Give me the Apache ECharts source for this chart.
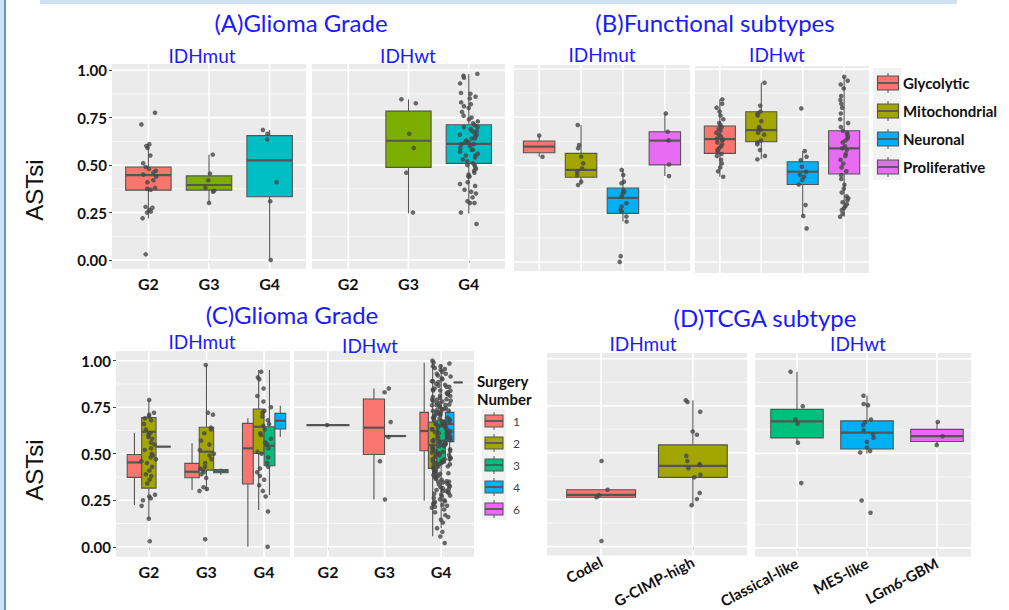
<!DOCTYPE html>
<html><head><meta charset="utf-8">
<script src="https://cdn.jsdelivr.net/npm/echarts@6/dist/echarts.min.js"></script>
<style>html,body{margin:0;padding:0;background:#fff}#c{width:1009px;height:610px}</style>
</head><body><div id="c"></div>
<script>
// ================= DATA =================
const gradeCats = ['G2', 'G3', 'G4'];
const funcCats = ['Glycolytic', 'Mitochondrial', 'Neuronal', 'Proliferative'];
const surgeryCats = ['1', '2', '3', '4', '6'];
const tcgaMutCats = ['Codel', 'G-CIMP-high'];
const tcgaWtCats = ['Classical-like', 'MES-like', 'LGm6-GBM'];
const facetNames = ['IDHmut', 'IDHwt'];
const panelTitles = ['(A)Glioma Grade', '(B)Functional subtypes', '(C)Glioma Grade', '(D)TCGA subtype'];
const yTitle = 'ASTsi';
const legendCTitle = ['Surgery', 'Number'];
const yTicks = [0, 0.25, 0.5, 0.75, 1];
const yTickLabels = ['0.00', '0.25', '0.50', '0.75', '1.00'];
const yMinorTicks = [0.125, 0.375, 0.625, 0.875];

// box statistics: [category, lower whisker, Q1, median, Q3, upper whisker]
const aMutBoxes = [
  ['G2', 0.22, 0.368, 0.447, 0.49, 0.61],
  ['G3', 0.30, 0.368, 0.395, 0.443, 0.555],
  ['G4', 0.0, 0.333, 0.525, 0.655, 0.685]
];
const aWtBoxes = [
  ['G3', 0.247, 0.488, 0.628, 0.784, 0.846],
  ['G4', 0.245, 0.509, 0.612, 0.712, 0.98]
];
const aMutG2 = [0.775,0.714,0.61,0.60,0.59,0.55,0.51,0.49,0.48,0.47,0.46,0.45,0.44,0.42,0.41,0.38,0.375,0.37,0.28,0.275,0.265,0.255,0.25,0.22,0.03];
const aMutG3 = [0.555,0.455,0.42,0.38,0.365,0.36,0.30];
const aMutG4 = [0.685,0.665,0.635,0.41,0.31,0.0];
const aWtG3 = [0.846,0.825,0.665,0.59,0.46,0.25];
const aWtG4 = [0.98,0.97,0.96,0.93,0.88,0.875,0.86,0.85,0.83,0.82,0.81,0.80,0.78,0.76,0.75,0.74,0.73,0.72,0.71,0.70,0.70,0.69,0.68,0.68,0.67,0.66,0.66,0.65,0.64,0.64,0.63,0.62,0.62,0.61,0.61,0.60,0.59,0.58,0.58,0.57,0.56,0.55,0.55,0.54,0.53,0.52,0.51,0.50,0.50,0.49,0.48,0.47,0.46,0.45,0.44,0.44,0.41,0.40,0.39,0.37,0.36,0.35,0.33,0.31,0.30,0.30,0.25,0.19];

const bMutBoxes = [
  ['Glycolytic', 0.545, 0.566, 0.598, 0.627, 0.655],
  ['Mitochondrial', 0.399, 0.439, 0.477, 0.563, 0.71],
  ['Neuronal', 0.209, 0.252, 0.332, 0.383, 0.477],
  ['Proliferative', 0.445, 0.503, 0.629, 0.675, 0.77]
];
const bWtBoxes = [
  ['Glycolytic', 0.442, 0.563, 0.637, 0.705, 0.843],
  ['Mitochondrial', 0.532, 0.623, 0.684, 0.779, 0.929],
  ['Neuronal', 0.235, 0.402, 0.468, 0.52, 0.575],
  ['Proliferative', 0.235, 0.456, 0.589, 0.68, 0.96]
];
const bMutGly = [0.655, 0.545];
const bMutMito = [0.71,0.606,0.589,0.546,0.511,0.485,0.468,0.451,0.416,0.399];
const bMutNeur = [0.477,0.451,0.416,0.408,0.373,0.364,0.356,0.339,0.304,0.287,0.269,0.261,0.235,0.209,0.03,0.0];
const bMutProl = [0.77,0.675,0.63,0.505,0.445];
const bWtGly = [0.843,0.82,0.80,0.78,0.76,0.74,0.72,0.71,0.70,0.69,0.68,0.67,0.66,0.65,0.64,0.635,0.63,0.62,0.61,0.60,0.59,0.58,0.57,0.56,0.55,0.53,0.51,0.49,0.47,0.442];
const bWtMito = [0.929,0.81,0.78,0.77,0.76,0.73,0.70,0.69,0.685,0.67,0.66,0.63,0.62,0.61,0.58,0.55,0.532];
const bWtNeur = [0.796,0.575,0.546,0.528,0.494,0.468,0.451,0.442,0.425,0.402,0.295,0.238,0.174];
const bWtProl = [0.96,0.94,0.92,0.90,0.86,0.84,0.82,0.80,0.77,0.74,0.72,0.70,0.68,0.67,0.66,0.65,0.64,0.63,0.62,0.60,0.59,0.58,0.56,0.55,0.53,0.51,0.49,0.47,0.45,0.43,0.40,0.38,0.36,0.34,0.33,0.32,0.31,0.30,0.29,0.28,0.27,0.25,0.235];

// [grade, surgery number, lower whisker, Q1, median, Q3, upper whisker]
const cMutBoxes = [
  ['G2', '1', 0.224, 0.373, 0.453, 0.496, 0.613],
  ['G2', '2', 0.152, 0.315, 0.618, 0.695, 0.789],
  ['G2', '3', 0.538, 0.538, 0.538, 0.538, 0.538],
  ['G3', '1', 0.305, 0.371, 0.403, 0.448, 0.556],
  ['G3', '2', 0.30, 0.412, 0.511, 0.642, 0.977],
  ['G3', '3', 0.385, 0.398, 0.405, 0.415, 0.42],
  ['G4', '1', 0.0, 0.337, 0.529, 0.663, 0.69],
  ['G4', '2', 0.197, 0.502, 0.645, 0.74, 0.95],
  ['G4', '3', 0.278, 0.435, 0.543, 0.645, 0.95],
  ['G4', '4', 0.59, 0.633, 0.677, 0.717, 0.758]
];
const cWtBoxes = [
  ['G2', '1', 0.654, 0.654, 0.654, 0.654, 0.654],
  ['G3', '1', 0.254, 0.496, 0.64, 0.794, 0.851],
  ['G3', '2', 0.595, 0.595, 0.595, 0.595, 0.595],
  ['G4', '1', 0.247, 0.516, 0.622, 0.722, 0.989],
  ['G4', '2', 0.057, 0.421, 0.547, 0.67, 1.0],
  ['G4', '3', 0.10, 0.45, 0.57, 0.68, 0.98],
  ['G4', '4', 0.457, 0.565, 0.66, 0.722, 0.743],
  ['G4', '6', 0.883, 0.883, 0.883, 0.883, 0.883]
];
const cMutG2 = [0.789,0.72,0.71,0.70,0.69,0.68,0.66,0.63,0.61,0.60,0.59,0.58,0.56,0.55,0.53,0.52,0.50,0.49,0.48,0.47,0.46,0.45,0.43,0.41,0.39,0.38,0.36,0.34,0.28,0.27,0.26,0.25,0.22,0.15,0.03];
const cMutG3 = [0.977,0.72,0.71,0.64,0.63,0.61,0.57,0.55,0.52,0.50,0.49,0.47,0.45,0.43,0.42,0.41,0.40,0.39,0.37,0.32,0.31,0.30,0.04];
const cMutG4 = [0.94,0.91,0.90,0.85,0.81,0.78,0.75,0.73,0.72,0.70,0.68,0.66,0.65,0.63,0.61,0.60,0.58,0.56,0.55,0.53,0.51,0.50,0.48,0.45,0.43,0.42,0.40,0.38,0.36,0.33,0.30,0.27,0.19,0.0];
const cWtG2 = [0.654];
const cWtG3 = [0.851,0.83,0.67,0.59,0.46,0.254];
const cWtG4 = [1.0,0.99,0.985,0.97,0.96,0.955,0.94,0.93,0.92,0.915,0.90,0.89,0.885,0.87,0.865,0.86,0.85,0.84,0.838,0.83,0.82,0.812,0.81,0.80,0.793,0.79,0.782,0.78,0.772,0.77,0.762,0.76,0.753,0.75,0.741,0.74,0.733,0.73,0.722,0.72,0.713,0.71,0.704,0.70,0.694,0.69,0.683,0.68,0.672,0.67,0.664,0.66,0.652,0.65,0.647,0.64,0.633,0.63,0.624,0.62,0.614,0.61,0.603,0.60,0.592,0.59,0.585,0.58,0.574,0.57,0.562,0.56,0.553,0.55,0.546,0.54,0.532,0.53,0.524,0.52,0.513,0.51,0.504,0.50,0.493,0.49,0.482,0.48,0.471,0.47,0.462,0.46,0.452,0.45,0.443,0.44,0.432,0.43,0.42,0.41,0.40,0.392,0.385,0.38,0.37,0.36,0.352,0.35,0.34,0.33,0.32,0.31,0.30,0.29,0.28,0.27,0.262,0.25,0.24,0.23,0.22,0.21,0.20,0.185,0.17,0.16,0.145,0.13,0.10,0.08,0.055,0.02,
  0.905,0.875,0.845,0.825,0.805,0.785,0.765,0.745,0.725,0.715,0.695,0.675,0.655,0.635,0.615,0.605,0.595,0.575,0.565,0.555,0.535,0.515,0.505,0.495,0.475,0.455,0.445,0.425,0.415,0.405,0.395,0.375,0.365,0.345,0.335,0.325,0.315,0.305,0.295,0.285,0.275,0.255,0.245,0.235,0.225,0.215,0.93,0.95,0.97,0.89,0.86,0.84,0.82,0.79,0.76,0.73,0.69,0.66,0.62,0.58,0.54,0.47,0.44,0.39,0.35,0.30];

const dMutBoxes = [
  ['Codel', 0.263, 0.263, 0.276, 0.303, 0.303],
  ['G-CIMP-high', 0.221, 0.369, 0.43, 0.542, 0.779]
];
const dWtBoxes = [
  ['Classical-like', 0.556, 0.582, 0.669, 0.733, 0.932],
  ['MES-like', 0.50, 0.523, 0.61, 0.672, 0.805],
  ['LGm6-GBM', 0.544, 0.563, 0.591, 0.627, 0.666]
];
const dMutCodel = [0.456, 0.303, 0.274, 0.263, 0.03];
const dMutGcimp = [0.779,0.77,0.718,0.613,0.596,0.483,0.456,0.439,0.435,0.418,0.383,0.369,0.286,0.253,0.221];
const dWtClass = [0.932,0.749,0.679,0.657,0.556,0.343];
const dWtMes = [0.805,0.761,0.755,0.679,0.665,0.65,0.622,0.60,0.582,0.56,0.531,0.512,0.505,0.251,0.186];
const dWtLgm = [0.666,0.591,0.544];

// ================= STYLE =================
const gradeColors = ['#F8766D', '#7CAE00', '#00BFC4'];
const funcColors = ['#F8766D', '#A3A500', '#00B0F6', '#E76BF3'];
const surgeryColors = ['#F8766D', '#A3A500', '#00BF7D', '#00B0F6', '#E76BF3'];
const tcgaMutColors = ['#F8766D', '#A3A500'];
const tcgaWtColors = ['#00BF7D', '#00B0F6', '#E76BF3'];
const BLUE = '#1a1aff';
const LINE = '#555555';
const PANEL = '#EBEBEB';

const option = { animation: false, backgroundColor: '#ffffff', grid: [], xAxis: [], yAxis: [], series: [], graphic: [] };

// deterministic horizontal jitter (presentation only)
function jitter(i, w, seed) { const s = Math.sin((i + 1) * 12.9898 + seed * 78.233) * 43758.5453; return ((s - Math.floor(s)) - 0.5) * 2 * w; }

function addFacet(cfg) {
  const gi = option.grid.length;
  const catPos = cfg.cats.map((c, k) => k + 1);
  option.grid.push({ left: cfg.rect[0], top: cfg.rect[1], width: cfg.rect[2], height: cfg.rect[3],
    show: true, backgroundColor: PANEL, borderWidth: 0 });
  option.xAxis.push({ gridIndex: gi, type: 'value', min: cfg.xr[0], max: cfg.xr[1],
    axisLine: { show: false }, splitLine: { show: false },
    axisTick: { show: cfg.showX, customValues: catPos, length: 3, lineStyle: { color: '#444' } },
    axisLabel: { show: cfg.showX, customValues: catPos, rotate: cfg.rotate || 0, margin: cfg.rotate ? 5 : 6,
      formatter: v => cfg.cats[Math.round(v) - 1] || '',
      color: '#111', fontFamily: 'Lato', fontWeight: 'bold', fontSize: cfg.rotate ? 15 : 16 } });
  option.yAxis.push({ gridIndex: gi, type: 'value', min: cfg.yr[0], max: cfg.yr[1],
    axisLine: { show: false }, splitLine: { show: false },
    axisTick: { show: cfg.showY, customValues: yTicks, length: 3, lineStyle: { color: '#444' } },
    axisLabel: { show: cfg.showY, customValues: yTicks, margin: 5,
      formatter: v => { let b = 0; yTicks.forEach((t, k) => { if (Math.abs(t - v) < Math.abs(yTicks[b] - v)) b = k; }); return yTickLabels[b]; },
      color: '#111', fontFamily: 'Lato', fontWeight: 'bold', fontSize: 15 } });
  // panel grid lines
  option.series.push({ type: 'custom', xAxisIndex: gi, yAxisIndex: gi, silent: true, z: 1,
    data: [[catPos[0], 0.5]],
    renderItem: (params, api) => {
      const cs = params.coordSys; const ch = [];
      yMinorTicks.forEach(v => { const y = api.coord([catPos[0], v])[1];
        ch.push({ type: 'line', shape: { x1: cs.x, y1: y, x2: cs.x + cs.width, y2: y }, style: { stroke: '#fafafa', lineWidth: 0.8 } }); });
      yTicks.forEach(v => { const y = api.coord([catPos[0], v])[1];
        ch.push({ type: 'line', shape: { x1: cs.x, y1: y, x2: cs.x + cs.width, y2: y }, style: { stroke: '#ffffff', lineWidth: 1.6 } }); });
      catPos.forEach(p => { const x = api.coord([p, 0])[0];
        ch.push({ type: 'line', shape: { x1: x, y1: cs.y, x2: x, y2: cs.y + cs.height }, style: { stroke: '#ffffff', lineWidth: 1.6 } }); });
      return { type: 'group', children: ch };
    } });
  // boxes: rows [pos, lo, q1, med, q3, hi, slot, nslots, colorIdx]
  const colors = cfg.colors;
  option.series.push({ type: 'custom', xAxisIndex: gi, yAxisIndex: gi, silent: true, z: 2,
    dimensions: ['pos', 'lo', 'q1', 'med', 'q3', 'hi', 'slot', 'nslots', 'col'],
    encode: { x: 0, y: [1, 2, 3, 4, 5] },
    data: cfg.boxRows,
    renderItem: (params, api) => {
      const pos = api.value(0), slot = api.value(6), ns = api.value(7), col = colors[api.value(8)];
      const unit = api.size([1, 0])[0];
      const tot = 0.75 * unit, w = tot / ns;
      const cx = api.coord([pos, 0])[0] - tot / 2 + (slot + 0.5) * w;
      const Y = k => api.coord([pos, api.value(k)])[1];
      const yLo = Y(1), yQ1 = Y(2), yMed = Y(3), yQ3 = Y(4), yHi = Y(5);
      return { type: 'group', children: [
        { type: 'line', shape: { x1: cx, y1: yHi, x2: cx, y2: yQ3 }, style: { stroke: LINE, lineWidth: 1.1 } },
        { type: 'line', shape: { x1: cx, y1: yQ1, x2: cx, y2: yLo }, style: { stroke: LINE, lineWidth: 1.1 } },
        { type: 'rect', shape: { x: cx - w / 2, y: yQ3, width: w, height: Math.max(yQ1 - yQ3, 0.01) }, style: { fill: col, stroke: LINE, lineWidth: 1.1 } },
        { type: 'line', shape: { x1: cx - w / 2, y1: yMed, x2: cx + w / 2, y2: yMed }, style: { stroke: LINE, lineWidth: 2.2 } }
      ] };
    } });
  // jittered points
  const pts = [];
  cfg.points.forEach(([cat, arr], g) => {
    const p = cfg.cats.indexOf(cat) + 1;
    const w = (cfg.jwFor && cfg.jwFor[cat]) || cfg.jw;
    arr.forEach((v, i) => pts.push([p + jitter(i, w, gi * 7 + g), v]));
  });
  option.series.push({ type: 'scatter', xAxisIndex: gi, yAxisIndex: gi, silent: true, z: 3,
    symbolSize: 4.6, itemStyle: { color: '#474747' }, data: pts });
}

function simpleRows(cats, boxes) {
  return boxes.map(b => { const k = cats.indexOf(b[0]); return [k + 1, b[1], b[2], b[3], b[4], b[5], 0, 1, k]; });
}
function dodgeRows(cats, boxes) {
  return boxes.map(b => {
    const k = cats.indexOf(b[0]);
    const groups = boxes.filter(o => o[0] === b[0]).map(o => o[1]);
    return [k + 1, b[2], b[3], b[4], b[5], b[6], groups.indexOf(b[1]), groups.length, surgeryCats.indexOf(b[1])];
  });
}

const yrA = [-0.047, 1.032], yrB1 = [-0.047, 1.021], yrB2 = [-0.057, 1.016], yrC = [-0.055, 1.052], yrD = [-0.047, 1.031];

addFacet({ rect: [112, 64, 194, 205], xr: [0.4, 3.6], yr: yrA, cats: gradeCats, colors: gradeColors, showX: true, showY: true, jw: 0.13,
  boxRows: simpleRows(gradeCats, aMutBoxes), points: [['G2', aMutG2], ['G3', aMutG3], ['G4', aMutG4]] });
addFacet({ rect: [312, 64, 193, 205], xr: [0.4, 3.6], yr: yrA, cats: gradeCats, colors: gradeColors, showX: true, showY: false, jw: 0.15,
  boxRows: simpleRows(gradeCats, aWtBoxes), points: [['G3', aWtG3], ['G4', aWtG4]] });
addFacet({ rect: [514, 65, 176, 206], xr: [0.4, 4.6], yr: yrB1, cats: funcCats, colors: funcColors, showX: false, showY: false, jw: 0.1,
  boxRows: simpleRows(funcCats, bMutBoxes), points: [['Glycolytic', bMutGly], ['Mitochondrial', bMutMito], ['Neuronal', bMutNeur], ['Proliferative', bMutProl]] });
addFacet({ rect: [695, 66, 174, 207], xr: [0.4, 4.6], yr: yrB2, cats: funcCats, colors: funcColors, showX: false, showY: false, jw: 0.1,
  boxRows: simpleRows(funcCats, bWtBoxes), points: [['Glycolytic', bWtGly], ['Mitochondrial', bWtMito], ['Neuronal', bWtNeur], ['Proliferative', bWtProl]] });
addFacet({ rect: [116, 351, 174, 206], xr: [0.43, 3.45], yr: yrC, cats: gradeCats, colors: surgeryColors, showX: true, showY: true, jw: 0.13,
  boxRows: dodgeRows(gradeCats, cMutBoxes), points: [['G2', cMutG2], ['G3', cMutG3], ['G4', cMutG4]] });
addFacet({ rect: [294, 351, 180, 206], xr: [0.4, 3.58], yr: yrC, cats: gradeCats, colors: surgeryColors, showX: true, showY: false, jw: 0.12, jwFor: { G4: 0.17 },
  boxRows: dodgeRows(gradeCats, cWtBoxes), points: [['G2', cWtG2], ['G3', cWtG3], ['G4', cWtG4]] });
addFacet({ rect: [547, 353, 200, 207], xr: [0.41, 2.59], yr: yrD, cats: tcgaMutCats, colors: tcgaMutColors, showX: true, showY: false, jw: 0.09, rotate: 28,
  boxRows: simpleRows(tcgaMutCats, dMutBoxes), points: [['Codel', dMutCodel], ['G-CIMP-high', dMutGcimp]] });
addFacet({ rect: [755, 353, 216, 207], xr: [0.4, 3.486], yr: yrD, cats: tcgaWtCats, colors: tcgaWtColors, showX: true, showY: false, jw: 0.1, rotate: 28,
  boxRows: simpleRows(tcgaWtCats, dWtBoxes), points: [['Classical-like', dWtClass], ['MES-like', dWtMes], ['LGm6-GBM', dWtLgm]] });

// ================= TEXT & DECOR =================
const G = option.graphic;
function txt(x, y, s, font, fill, extra) {
  G.push(Object.assign({ type: 'text', x: x, y: y, silent: true,
    style: { text: s, font: font, fill: fill, textAlign: 'center', textVerticalAlign: 'middle', align: 'center', verticalAlign: 'middle' } }, extra || {}));
}
G.push({ type: 'rect', shape: { x: 0, y: 0, width: 4, height: 610 }, style: { fill: '#cfe2f3' }, silent: true });
G.push({ type: 'rect', shape: { x: 4, y: 0, width: 2, height: 610 }, style: { fill: '#5b9bd5' }, silent: true });
G.push({ type: 'rect', shape: { x: 40, y: 0, width: 917, height: 4 }, style: { fill: '#cfe2f3' }, silent: true });

const titleFont = '24px Lato', facetFont = '19px Lato';
txt(301, 22, panelTitles[0], titleFont, BLUE);
txt(715, 22, panelTitles[1], titleFont, BLUE);
txt(292, 314, panelTitles[2], titleFont, BLUE);
txt(765, 317, panelTitles[3], titleFont, BLUE);
txt(202, 55, facetNames[0], facetFont, BLUE); txt(408, 55, facetNames[1], facetFont, BLUE);
txt(602, 54, facetNames[0], facetFont, BLUE); txt(777, 54, facetNames[1], facetFont, BLUE);
txt(202, 341, facetNames[0], facetFont, BLUE); txt(370, 345, facetNames[1], facetFont, BLUE);
txt(643, 343, facetNames[0], facetFont, BLUE); txt(858, 343, facetNames[1], facetFont, BLUE);
txt(34, 190, yTitle, '24px "Liberation Sans"', '#111', { rotation: Math.PI / 2 });
txt(34, 470, yTitle, '24px "Liberation Sans"', '#111', { rotation: Math.PI / 2 });

function legendKey(cx, cy, w, h, color) {
  G.push({ type: 'line', silent: true, shape: { x1: cx, y1: cy - h / 2 - 3, x2: cx, y2: cy + h / 2 + 3 }, style: { stroke: LINE, lineWidth: 1 } });
  G.push({ type: 'rect', silent: true, shape: { x: cx - w / 2, y: cy - h / 2, width: w, height: h }, style: { fill: color, stroke: LINE, lineWidth: 1.1 } });
  G.push({ type: 'line', silent: true, shape: { x1: cx - w / 2, y1: cy, x2: cx + w / 2, y2: cy }, style: { stroke: LINE, lineWidth: 1.8 } });
}
G.push({ type: 'rect', silent: true, shape: { x: 873, y: 68, width: 28, height: 112 }, style: { fill: '#F2F2F2' } });
funcCats.forEach((c, k) => {
  const cy = 83 + k * 28;
  legendKey(888, cy, 21, 14, funcColors[k]);
  G.push({ type: 'text', silent: true, x: 903, y: cy, style: { text: c, font: 'bold 15px Lato', fill: '#111', textAlign: 'left', textVerticalAlign: 'middle', align: 'left', verticalAlign: 'middle' } });
});
G.push({ type: 'text', silent: true, x: 477, y: 381, style: { text: legendCTitle[0], font: 'bold 15px Lato', fill: '#111', textAlign: 'left', textVerticalAlign: 'middle', align: 'left', verticalAlign: 'middle' } });
G.push({ type: 'text', silent: true, x: 477, y: 399, style: { text: legendCTitle[1], font: 'bold 15px Lato', fill: '#111', textAlign: 'left', textVerticalAlign: 'middle', align: 'left', verticalAlign: 'middle' } });
G.push({ type: 'rect', silent: true, shape: { x: 482, y: 409, width: 24, height: 111 }, style: { fill: '#F2F2F2' } });
surgeryCats.forEach((c, k) => {
  const cy = 421 + k * 22;
  legendKey(494, cy, 18, 12, surgeryColors[k]);
  G.push({ type: 'text', silent: true, x: 513, y: cy, style: { text: c, font: '12px Lato', fill: '#444', textAlign: 'left', textVerticalAlign: 'middle', align: 'left', verticalAlign: 'middle' } });
});

const chart = echarts.init(document.getElementById('c'), null, { renderer: 'svg' });
chart.setOption(option);
</script></body></html>
